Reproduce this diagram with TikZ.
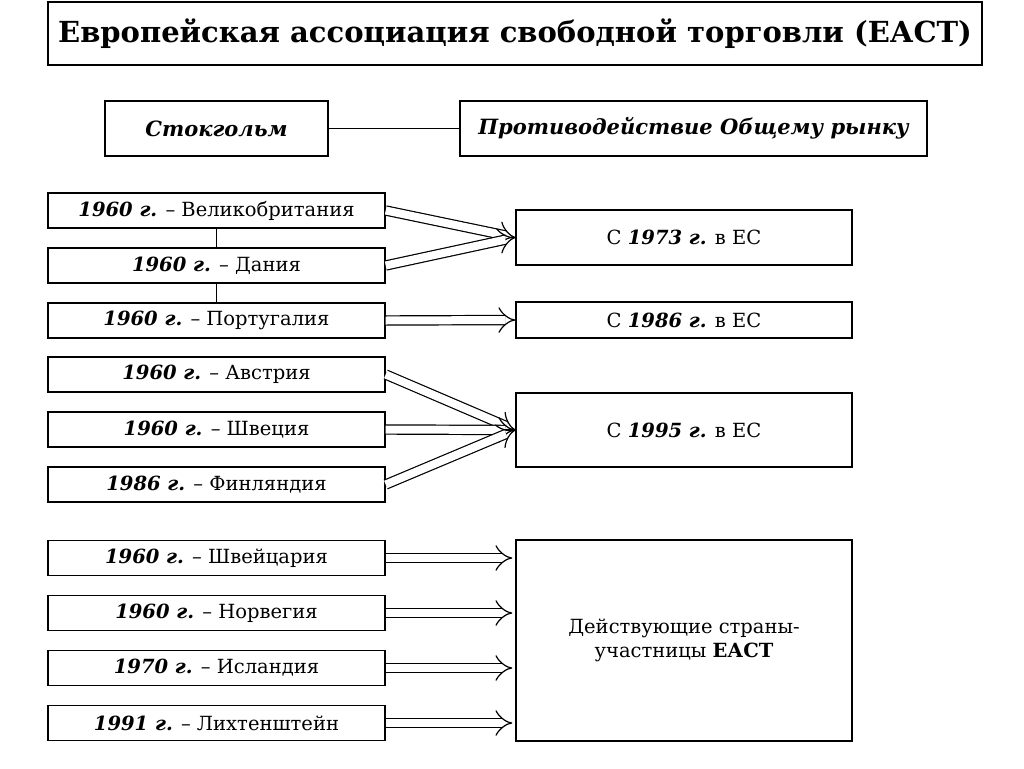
\documentclass[tikz,border=0pt]{standalone}
\usepackage{fontspec}
\setmainfont{DejaVu Serif}
\usetikzlibrary{arrows.meta}
\tikzset{
  box/.style={draw,line width=1.4pt,inner sep=0pt,font=\fontsize{19.5}{24}\selectfont,align=center},
  dbl/.style={double,double distance=8pt,line width=1.2pt,-{Implies[length=12pt,width=20pt]}},
}
\begin{document}
\begin{tikzpicture}[x=1pt,y=-1pt]
\useasboundingbox[fill=white] (0,0) rectangle (1024,768);
% title
\node (title) [box,minimum width=934pt,minimum height=63pt,font=\fontsize{29}{34}\selectfont\bfseries] at (515,33.5) {Европейская ассоциация свободной торговли (ЕАСТ)};
\node (stock) [box,minimum width=223pt,minimum height=55pt,font=\fontsize{21}{25}\selectfont\bfseries\itshape] at (216.5,128.5) {Стокгольм};
\node (contra) [box,minimum width=467pt,minimum height=55pt,font=\fontsize{21}{25}\selectfont\bfseries\itshape] at (693.5,128.5) {Противодействие Общему рынку};
\draw [line width=1.2pt] (stock) -- (contra);
% left column
\foreach \nm/\yy/\yr/\cn in {gb/210.5/1960/Великобритания, dk/265.5/1960/Дания, pt/320.5/1960/Португалия, at/374.5/1960/Австрия, se/429.5/1960/Швеция, fi/484.5/1986/Финляндия, ch/558/1960/Швейцария, no/613/1960/Норвегия, is/668/1970/Исландия, li/723/1991/Лихтенштейн}
  \node (\nm) [box,minimum width=337pt,minimum height=35pt] at (216.5,\yy) {\textbf{\textit{\yr\ г.}} – \cn};
\draw [line width=1.2pt] (gb) -- (dk) -- (pt);
% right column
\node (eu73) [box,minimum width=336pt,minimum height=55pt] at (684,237.5) {С \textbf{\textit{1973 г.}} в ЕС};
\node (eu86) [box,minimum width=336pt,minimum height=36pt] at (684,320) {С \textbf{\textit{1986 г.}} в ЕС};
\node (eu95) [box,minimum width=336pt,minimum height=74pt] at (684,430) {С \textbf{\textit{1995 г.}} в ЕС};
\node (efta) [box,minimum width=336pt,minimum height=201pt] at (684,640.5) {Действующие страны-\\участницы \textbf{ЕАСТ}};
% arrows
\draw [dbl] (gb.east) -- (eu73.west);
\draw [dbl] (dk.east) -- (eu73.west);
\draw [dbl] (pt.east) -- (eu86.west);
\draw [dbl] (at.east) -- (eu95.west);
\draw [dbl] (se.east) -- (eu95.west);
\draw [dbl] (fi.east) -- (eu95.west);
\foreach \nm in {ch,no,is,li}
  \draw [dbl] (\nm.east) -- ([xshift=-3pt]efta.west |- \nm.east);
\end{tikzpicture}
\end{document}
